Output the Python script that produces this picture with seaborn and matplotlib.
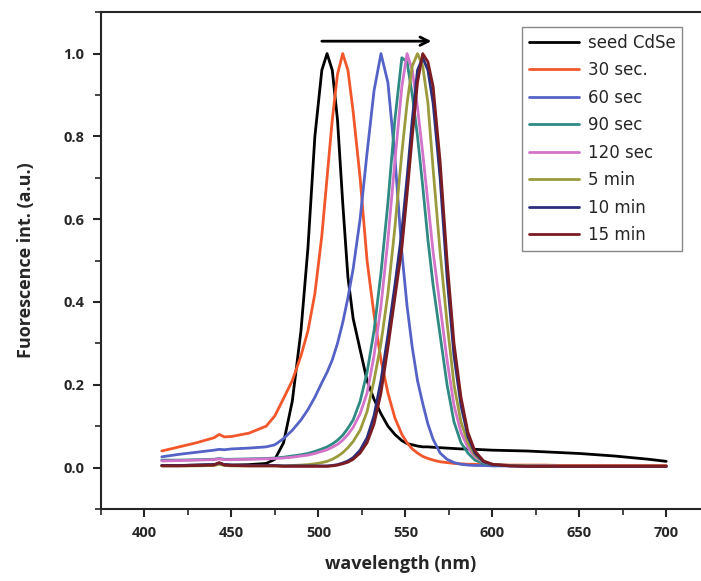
import pandas as pd
import matplotlib
matplotlib.use("Agg")
import matplotlib.pyplot as plt
from matplotlib.ticker import MultipleLocator
import seaborn as sns

# wavelength grid (nm), shared by all spectra
wavelength = [410, 420, 430, 440, 443, 446, 450, 460, 470, 475, 480, 485,
              490, 494, 498, 502, 505, 508, 511, 514, 517, 520, 524, 528,
              532, 536, 540, 544, 548, 551, 554, 557, 560, 563, 566, 570,
              574, 578, 582, 586, 590, 595, 600, 610, 620, 630, 640, 650,
              660, 670, 680, 690, 700]

seed = [0.005, 0.005, 0.006, 0.007, 0.010, 0.007, 0.006, 0.007, 0.010, 0.020, 0.060, 0.160,
        0.330, 0.530, 0.800, 0.960, 1.000, 0.960, 0.840, 0.640, 0.460, 0.360, 0.285, 0.210,
        0.165, 0.130, 0.100, 0.080, 0.065, 0.058, 0.055, 0.052, 0.050, 0.050, 0.049, 0.048,
        0.047, 0.046, 0.045, 0.045, 0.044, 0.043, 0.042, 0.041, 0.040, 0.038, 0.036, 0.034,
        0.031, 0.028, 0.024, 0.020, 0.015]

sec30 = [0.040, 0.050, 0.060, 0.072, 0.080, 0.074, 0.075, 0.083, 0.100, 0.125, 0.167, 0.210,
         0.270, 0.330, 0.420, 0.560, 0.700, 0.840, 0.950, 1.000, 0.960, 0.860, 0.700, 0.500,
         0.370, 0.260, 0.180, 0.120, 0.080, 0.060, 0.045, 0.035, 0.027, 0.022, 0.018, 0.014,
         0.012, 0.010, 0.009, 0.008, 0.008, 0.007, 0.007, 0.006, 0.006, 0.006, 0.005, 0.005,
         0.005, 0.005, 0.005, 0.005, 0.005]

sec60 = [0.026, 0.032, 0.037, 0.042, 0.044, 0.043, 0.045, 0.047, 0.050, 0.055, 0.070, 0.090,
         0.115, 0.140, 0.170, 0.205, 0.230, 0.260, 0.300, 0.350, 0.410, 0.480, 0.600, 0.760,
         0.910, 1.000, 0.930, 0.750, 0.520, 0.390, 0.290, 0.210, 0.155, 0.105, 0.068, 0.035,
         0.020, 0.012, 0.008, 0.006, 0.005, 0.005, 0.004, 0.004, 0.004, 0.003, 0.003, 0.003,
         0.003, 0.003, 0.003, 0.003, 0.003]

sec90 = [0.018, 0.018, 0.019, 0.020, 0.022, 0.020, 0.020, 0.021, 0.022, 0.023, 0.025, 0.028,
         0.031, 0.034, 0.039, 0.045, 0.050, 0.057, 0.066, 0.078, 0.095, 0.115, 0.160, 0.230,
         0.330, 0.470, 0.640, 0.840, 0.990, 0.980, 0.900, 0.800, 0.680, 0.550, 0.440, 0.320,
         0.200, 0.110, 0.060, 0.035, 0.018, 0.010, 0.007, 0.005, 0.004, 0.004, 0.003, 0.003,
         0.003, 0.003, 0.003, 0.003, 0.003]

sec120 = [0.016, 0.017, 0.018, 0.019, 0.021, 0.019, 0.019, 0.020, 0.021, 0.022, 0.023, 0.025,
          0.028, 0.030, 0.034, 0.039, 0.043, 0.049, 0.056, 0.066, 0.080, 0.097, 0.130, 0.180,
          0.270, 0.390, 0.550, 0.740, 0.920, 1.000, 0.960, 0.870, 0.760, 0.640, 0.520, 0.390,
          0.260, 0.150, 0.085, 0.048, 0.026, 0.013, 0.008, 0.005, 0.004, 0.004, 0.003, 0.003,
          0.003, 0.003, 0.003, 0.003, 0.003]

min5 = [0.004, 0.004, 0.004, 0.005, 0.008, 0.005, 0.004, 0.004, 0.004, 0.004, 0.004, 0.005,
        0.006, 0.007, 0.009, 0.012, 0.015, 0.020, 0.027, 0.036, 0.048, 0.063, 0.090, 0.135,
        0.210, 0.300, 0.420, 0.580, 0.760, 0.880, 0.970, 1.000, 0.970, 0.880, 0.720, 0.520,
        0.350, 0.200, 0.110, 0.060, 0.030, 0.014, 0.008, 0.005, 0.004, 0.003, 0.003, 0.003,
        0.003, 0.003, 0.003, 0.003, 0.003]

min10 = [0.005, 0.005, 0.006, 0.007, 0.011, 0.007, 0.006, 0.005, 0.005, 0.005, 0.004, 0.004,
         0.004, 0.004, 0.004, 0.004, 0.004, 0.005, 0.007, 0.011, 0.016, 0.024, 0.042, 0.072,
         0.125, 0.210, 0.320, 0.440, 0.570, 0.700, 0.840, 0.960, 0.990, 0.960, 0.880, 0.700,
         0.460, 0.270, 0.150, 0.075, 0.035, 0.014, 0.007, 0.004, 0.003, 0.003, 0.003, 0.003,
         0.003, 0.003, 0.003, 0.003, 0.003]

min15 = [0.004, 0.004, 0.005, 0.006, 0.012, 0.006, 0.005, 0.004, 0.004, 0.004, 0.003, 0.003,
         0.003, 0.003, 0.003, 0.003, 0.003, 0.004, 0.006, 0.009, 0.013, 0.020, 0.035, 0.060,
         0.105, 0.180, 0.290, 0.410, 0.530, 0.660, 0.800, 0.930, 1.000, 0.980, 0.920, 0.740,
         0.500, 0.300, 0.170, 0.085, 0.040, 0.016, 0.008, 0.004, 0.003, 0.003, 0.003, 0.003,
         0.003, 0.003, 0.003, 0.003, 0.003]

labels = ["seed CdSe", "30 sec.", "60 sec", "90 sec", "120 sec", "5 min", "10 min", "15 min"]
colors = ["#000000", "#f2572c", "#5563c6", "#2f8a84", "#d373c9", "#9b9a3c", "#2b2f7c", "#7b1c22"]
spectra = [seed, sec30, sec60, sec90, sec120, min5, min10, min15]

# long table for seaborn
df = pd.concat([pd.DataFrame({"wl": wavelength, "inten": s, "sample": lab})
                for s, lab in zip(spectra, labels)], ignore_index=True)

sns.set_style("ticks")
plt.rcParams['font.family'] = ['Open Sans', 'DejaVu Sans']

fig = plt.figure(figsize=(7.01, 5.81), dpi=100)
ax = fig.add_axes([0.144, 0.124, 0.856, 0.855])

sns.lineplot(data=df, x="wl", y="inten", hue="sample", hue_order=labels,
             palette=dict(zip(labels, colors)), linewidth=2, estimator=None,
             sort=False, ax=ax)

ax.set_xlim(375, 720)
ax.set_ylim(-0.1, 1.1)
ax.xaxis.set_major_locator(MultipleLocator(50))
ax.xaxis.set_minor_locator(MultipleLocator(25))
ax.yaxis.set_major_locator(MultipleLocator(0.2))
ax.yaxis.set_minor_locator(MultipleLocator(0.1))
ax.tick_params(which="major", direction="out", length=6, width=1.5, labelsize=10.5, pad=6)
ax.tick_params(which="minor", direction="out", length=4, width=1.2)
for lab in ax.get_xticklabels() + ax.get_yticklabels():
    lab.set_fontweight("bold")
for side in ["left", "bottom", "top"]:
    ax.spines[side].set_linewidth(1.5)
ax.spines["right"].set_visible(False)

ax.set_xlabel("wavelength (nm)", fontsize=13, fontweight="bold", labelpad=11)
ax.set_ylabel("Fuorescence int. (a.u.)", fontsize=13, fontweight="bold", labelpad=20)

# red-shift arrow
ax.annotate("", xy=(565, 1.03), xytext=(502, 1.03),
            arrowprops=dict(arrowstyle="->,head_length=0.6,head_width=0.3",
                            lw=2, color="black", shrinkA=0, shrinkB=0))

leg = ax.legend(loc="upper left", bbox_to_anchor=(0.702, 0.97), borderaxespad=0,
                prop={"family": "DejaVu Sans", "size": 12},
                handlelength=3.0, handletextpad=0.55, labelspacing=0.57,
                fancybox=False, edgecolor="#888888", framealpha=1)
leg.get_frame().set_linewidth(1.0)
for line in leg.get_lines():
    line.set_linewidth(2)

fig.savefig("out.png", dpi=100)
